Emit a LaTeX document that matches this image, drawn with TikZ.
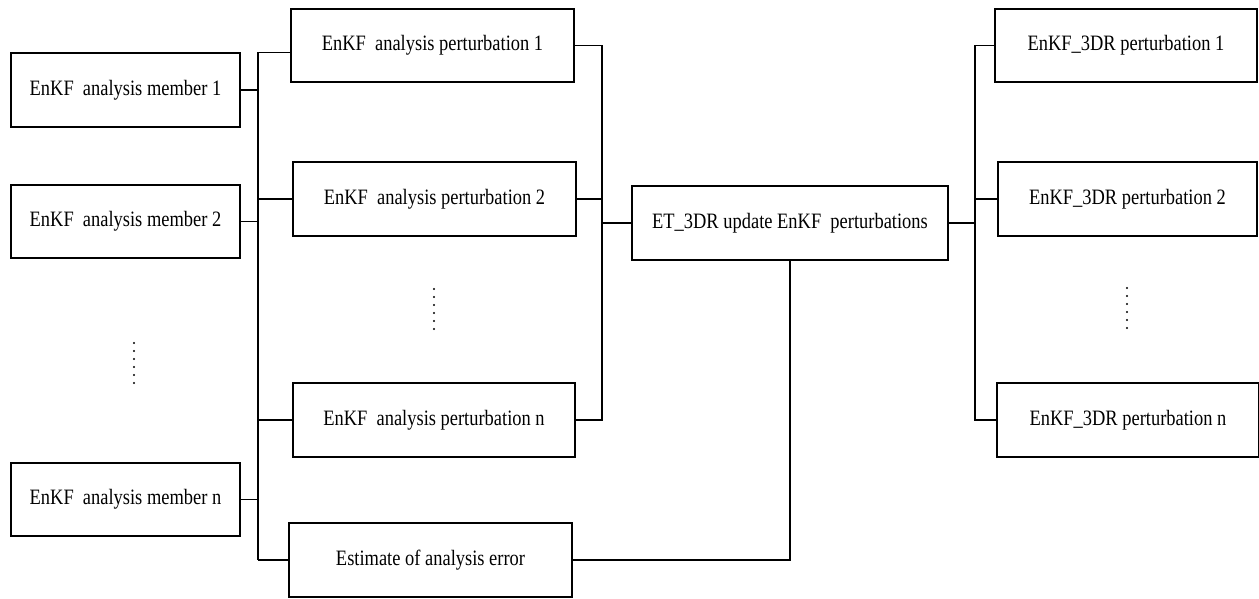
\documentclass[tikz,border=0pt]{standalone}
\usepackage{fontspec}
\setmainfont[FakeStretch=0.84]{Liberation Serif}

\begin{document}
\begin{tikzpicture}[x=0.02cm,y=-0.02cm,
    caja/.style={draw,line width=0.9pt,minimum height=1.47cm,inner sep=0pt,
      font=\fontsize{12.5}{15}\selectfont},
    enlace/.style={line width=0.9pt}]
    \useasboundingbox (0,0) rectangle (1259,599);

    % analysis members
    \node[caja,minimum width=4.58cm] (mem1) at (125.5,90) {EnKF\ \ analysis member 1};
    \node[caja,minimum width=4.58cm] (mem2) at (125.5,221.5) {EnKF\ \ analysis member 2};
    \node[caja,minimum width=4.58cm] (memn) at (125.5,499.5) {EnKF\ \ analysis member n};
    \foreach \y in {343,351,...,383}{
      \fill (134,\y) circle[radius=0.022cm];
    }

    % analysis perturbations
    \node[caja,minimum width=5.66cm] (pert1) at (432.5,45.5) {EnKF\ \ analysis perturbation 1};
    \node[caja,minimum width=5.66cm] (pert2) at (434.5,199) {EnKF\ \ analysis perturbation 2};
    \node[caja,minimum width=5.64cm] (pertn) at (434,420) {EnKF\ \ analysis perturbation n};
    \node[caja,minimum width=5.66cm] (est) at (430.5,560) {Estimate of analysis error};
    \foreach \y in {289,297,...,329}{
      \fill (434,\y) circle[radius=0.022cm];
    }

    % ET_3DR update
    \node[caja,minimum width=6.32cm] (et) at (790,223) {ET\_3DR update EnKF\ \ perturbations};

    % EnKF_3DR perturbations
    \node[caja,minimum width=5.24cm] (rp1) at (1126,45.5) {EnKF\_3DR perturbation 1};
    \node[caja,minimum width=5.18cm] (rp2) at (1127.5,199) {EnKF\_3DR perturbation 2};
    \node[caja,minimum width=5.24cm] (rpn) at (1128,420) {EnKF\_3DR perturbation n};
    \foreach \y in {288,296,...,328}{
      \fill (1127,\y) circle[radius=0.022cm];
    }

    % bus lines
    \coordinate (busL) at (258,0);
    \coordinate (busM) at (602,0);
    \coordinate (busR) at (975,0);

    \draw[enlace] (busL |- mem1.north) -- (busL |- est.west);
    \draw[enlace] (busL |- mem1.north) -- (pert1.west |- mem1.north);
    \foreach \m in {mem1,mem2,memn}{
      \draw[enlace] (\m.east) -- (busL |- \m.east);
    }
    \foreach \p in {pert2,pertn,est}{
      \draw[enlace] (busL |- \p.west) -- (\p.west);
    }

    \draw[enlace] (pert1.east) -- (busM |- pert1.east) -- (busM |- pertn.east) -- (pertn.east);
    \draw[enlace] (pert2.east) -- (busM |- pert2.east);
    \draw[enlace] (busM |- et.west) -- (et.west);

    \draw[enlace] (est.east) -| (et.south);

    \draw[enlace] (rp1.west) -- (busR |- rp1.west) -- (busR |- rpn.west) -- (rpn.west);
    \draw[enlace] (busR |- rp2.west) -- (rp2.west);
    \draw[enlace] (et.east) -- (busR |- et.east);
\end{tikzpicture}
\end{document}
